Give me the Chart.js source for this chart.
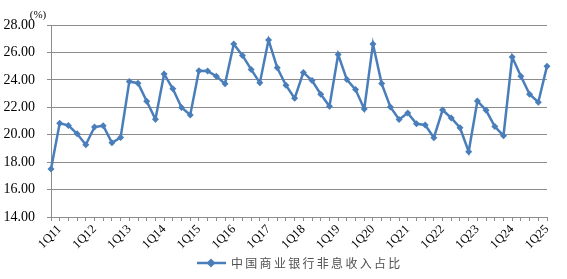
<!DOCTYPE html>
<html>
<head>
<meta charset="utf-8">
<script src="https://cdn.jsdelivr.net/npm/chart.js@4.4.1/dist/chart.umd.min.js"></script>
<style>
  html, body { margin: 0; padding: 0; background: #fff; }
  #wrap { width: 567px; height: 279px; }
</style>
</head>
<body>
<div id="wrap"><canvas id="ratioChart" width="567" height="279"></canvas></div>
<script>
// quarters, 4Q10 .. 1Q25
const quarters = [
  "4Q10",
  "1Q11", "2Q11", "3Q11", "4Q11",
  "1Q12", "2Q12", "3Q12", "4Q12",
  "1Q13", "2Q13", "3Q13", "4Q13",
  "1Q14", "2Q14", "3Q14", "4Q14",
  "1Q15", "2Q15", "3Q15", "4Q15",
  "1Q16", "2Q16", "3Q16", "4Q16",
  "1Q17", "2Q17", "3Q17", "4Q17",
  "1Q18", "2Q18", "3Q18", "4Q18",
  "1Q19", "2Q19", "3Q19", "4Q19",
  "1Q20", "2Q20", "3Q20", "4Q20",
  "1Q21", "2Q21", "3Q21", "4Q21",
  "1Q22", "2Q22", "3Q22", "4Q22",
  "1Q23", "2Q23", "3Q23", "4Q23",
  "1Q24", "2Q24", "3Q24", "4Q24",
  "1Q25"
];

// non-interest income share, %
const nonInterestShare = [
  17.50,
  20.83, 20.68, 20.07, 19.27,
  20.56, 20.66, 19.41, 19.80,
  23.88, 23.76, 22.44, 21.12,
  24.43, 23.35, 21.98, 21.44,
  24.66, 24.64, 24.27, 23.71,
  26.61, 25.78, 24.76, 23.78,
  26.90, 24.88, 23.61, 22.65,
  24.54, 23.95, 22.95, 22.07,
  25.85, 24.02, 23.29, 21.88,
  26.61, 23.73, 22.02, 21.11,
  21.59, 20.80, 20.71, 19.78,
  21.80, 21.22, 20.51, 18.76,
  22.46, 21.78, 20.59, 19.93,
  25.66, 24.27, 22.95, 22.37,
  25.00
];

const seriesName = "中国商业银行非息收入占比";
const yTicks = [14, 16, 18, 20, 22, 24, 26, 28];

const blue = "#4a7ebb";
const gridGray = "#8c8c8c";

// "(%)" unit above the value axis, and the legend under the axis labels
const extras = {
  id: "extras",
  afterDraw(chart) {
    const ctx = chart.ctx;
    ctx.save();
    ctx.font = "11px 'Liberation Serif'";
    ctx.fillStyle = "#000";
    ctx.textAlign = "center";
    ctx.textBaseline = "middle";
    ctx.fillText("(%)", 38, 15);

    // legend: line + diamond, then the series name
    const ly = 263;
    ctx.strokeStyle = blue;
    ctx.lineWidth = 2.5;
    ctx.beginPath();
    ctx.moveTo(197, ly);
    ctx.lineTo(226, ly);
    ctx.stroke();
    ctx.fillStyle = blue;
    ctx.beginPath();
    ctx.moveTo(211, ly - 4.5);
    ctx.lineTo(215.5, ly);
    ctx.lineTo(211, ly + 4.5);
    ctx.lineTo(206.5, ly);
    ctx.closePath();
    ctx.fill();

    ctx.font = "12px 'Noto Sans CJK SC'";
    ctx.letterSpacing = "2.3px";
    ctx.fillStyle = "#505050";
    ctx.textAlign = "left";
    ctx.fillText(seriesName, 231, ly);
    ctx.restore();
  }
};

new Chart(document.getElementById("ratioChart"), {
  type: "line",
  data: {
    labels: quarters,
    datasets: [{
      label: seriesName,
      data: nonInterestShare,
      borderColor: blue,
      backgroundColor: blue,
      borderWidth: 2.5,
      pointStyle: "rectRot",
      pointRadius: 3.5,
      pointBorderWidth: 0,
      pointBackgroundColor: blue,
      tension: 0
    }]
  },
  options: {
    responsive: false,
    animation: false,
    layout: { padding: { top: 25, right: 20, left: 0, bottom: 30 } },
    plugins: {
      tooltip: { enabled: false },
      legend: { display: false }
    },
    scales: {
      x: {
        offset: false,
        grid: {
          drawOnChartArea: false,
          drawTicks: true,
          tickLength: 4,
          color: gridGray
        },
        border: { color: gridGray, width: 1 },
        ticks: {
          autoSkip: false,
          maxRotation: 45,
          minRotation: 45,
          padding: 1,
          color: "#000",
          font: { family: "'Liberation Serif'", size: 12.5 },
          callback(value, index) {
            const q = quarters[index];
            return q.startsWith("1Q") ? q : "";
          }
        },
        afterFit(scale) { scale.height = 32; }
      },
      y: {
        min: 14,
        max: 28,
        afterBuildTicks(scale) {
          scale.ticks = yTicks.map(v => ({ value: v }));
        },
        grid: { color: gridGray, lineWidth: 1, tickLength: 4 },
        border: { color: gridGray, width: 1 },
        ticks: {
          padding: 12,
          color: "#000",
          font: { family: "'Liberation Serif'", size: 14 },
          callback(value) { return value.toFixed(2); }
        },
        afterFit(scale) { scale.width = 51; }
      }
    }
  },
  plugins: [extras]
});
</script>
</body>
</html>
